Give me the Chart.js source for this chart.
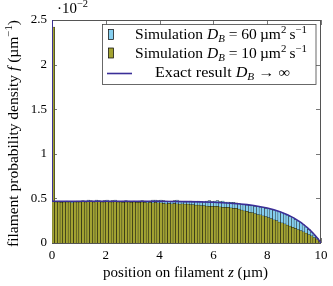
<!DOCTYPE html>
<html>
<head>
<meta charset="utf-8">
<script src="https://cdn.jsdelivr.net/npm/chart.js@4.4.0/dist/chart.umd.min.js"></script>
<style>
  html, body { margin: 0; padding: 0; background: #fff; }
  canvas { display: block; }
</style>
</head>
<body>
<canvas id="densityChart" width="333" height="286"></canvas>
<script>
// histogram bins on the filament (µm), width 0.1
const binCenters = [
  0.05, 0.15, 0.25, 0.35, 0.45, 0.55, 0.65, 0.75, 0.85, 0.95,
  1.05, 1.15, 1.25, 1.35, 1.45, 1.55, 1.65, 1.75, 1.85, 1.95,
  2.05, 2.15, 2.25, 2.35, 2.45, 2.55, 2.65, 2.75, 2.85, 2.95,
  3.05, 3.15, 3.25, 3.35, 3.45, 3.55, 3.65, 3.75, 3.85, 3.95,
  4.05, 4.15, 4.25, 4.35, 4.45, 4.55, 4.65, 4.75, 4.85, 4.95,
  5.05, 5.15, 5.25, 5.35, 5.45, 5.55, 5.65, 5.75, 5.85, 5.95,
  6.05, 6.15, 6.25, 6.35, 6.45, 6.55, 6.65, 6.75, 6.85, 6.95,
  7.05, 7.15, 7.25, 7.35, 7.45, 7.55, 7.65, 7.75, 7.85, 7.95,
  8.05, 8.15, 8.25, 8.35, 8.45, 8.55, 8.65, 8.75, 8.85, 8.95,
  9.05, 9.15, 9.25, 9.35, 9.45, 9.55, 9.65, 9.75, 9.85, 9.95
];

// simulation D_B = 60 µm²/s  (values in units of 1e-2 µm^-1)
const sim60 = [
  2.40, 0.465, 0.47, 0.465, 0.46, 0.47, 0.465, 0.46, 0.465, 0.47,
  0.47, 0.475, 0.47, 0.48, 0.475, 0.47, 0.48, 0.475, 0.47, 0.475,
  0.48, 0.47, 0.475, 0.48, 0.47, 0.465, 0.47, 0.475, 0.47, 0.465,
  0.47, 0.465, 0.47, 0.475, 0.47, 0.465, 0.47, 0.48, 0.48, 0.475,
  0.48, 0.475, 0.47, 0.465, 0.47, 0.475, 0.48, 0.47, 0.465, 0.46,
  0.465, 0.47, 0.46, 0.465, 0.47, 0.465, 0.46, 0.47, 0.475, 0.465,
  0.47, 0.475, 0.465, 0.47, 0.46, 0.46, 0.455, 0.455, 0.45, 0.445,
  0.432, 0.43, 0.425, 0.422, 0.418, 0.412, 0.41, 0.403, 0.398, 0.39,
  0.384, 0.376, 0.368, 0.36, 0.35, 0.338, 0.326, 0.313, 0.298, 0.283,
  0.266, 0.247, 0.226, 0.204, 0.179, 0.152, 0.123, 0.09, 0.055, 0.018
];

// simulation D_B = 10 µm²/s
const sim10 = [
  2.42, 0.46, 0.46, 0.455, 0.46, 0.46, 0.46, 0.45, 0.46, 0.46,
  0.46, 0.465, 0.46, 0.47, 0.465, 0.46, 0.47, 0.465, 0.46, 0.46,
  0.465, 0.46, 0.46, 0.465, 0.46, 0.46, 0.455, 0.46, 0.46, 0.455,
  0.46, 0.455, 0.455, 0.46, 0.455, 0.45, 0.455, 0.45, 0.455, 0.45,
  0.45, 0.445, 0.44, 0.445, 0.44, 0.445, 0.44, 0.435, 0.44, 0.435,
  0.435, 0.43, 0.43, 0.425, 0.425, 0.42, 0.42, 0.415, 0.41, 0.41,
  0.41, 0.41, 0.405, 0.40, 0.40, 0.40, 0.395, 0.39, 0.39, 0.38,
  0.37, 0.36, 0.355, 0.345, 0.34, 0.33, 0.32, 0.315, 0.305, 0.295,
  0.285, 0.275, 0.26, 0.25, 0.235, 0.225, 0.215, 0.20, 0.19, 0.175,
  0.165, 0.15, 0.14, 0.125, 0.11, 0.095, 0.08, 0.06, 0.045, 0.025
];

// exact result D_B -> infinity (spike at z = 0 runs off the top)
const exactZ = [0, 0.005, 0.5, 1, 1.5, 2, 2.5, 3, 3.5, 4,
  4.5, 5, 5.5, 6, 6.5, 7,
  7.25, 7.5, 7.75, 8, 8.25, 8.5, 8.75, 9, 9.25, 9.5,
  9.6, 9.7, 9.8, 9.9, 9.95, 10];
const exactF = [3.0, 0.468, 0.468, 0.468, 0.468, 0.468, 0.468, 0.468, 0.468, 0.468,
  0.466, 0.464, 0.461, 0.456, 0.449, 0.437,
  0.43, 0.42, 0.407, 0.392, 0.373, 0.348, 0.318, 0.279, 0.231, 0.171,
  0.142, 0.112, 0.078, 0.041, 0.021, 0];

const xTicksStep = 2;
const yTicksStep = 0.5;

const legendLabels = [
  [{t: 'Simulation '}, {t: 'D', it: true}, {t: 'B', it: true, pos: 'sub'}, {t: ' = 60\u2009µm'}, {t: '2', pos: 'sup'}, {t: '\u2009s'}, {t: '\u22121', pos: 'sup'}],
  [{t: 'Simulation '}, {t: 'D', it: true}, {t: 'B', it: true, pos: 'sub'}, {t: ' = 10\u2009µm'}, {t: '2', pos: 'sup'}, {t: '\u2009s'}, {t: '\u22121', pos: 'sup'}],
  [{t: 'Exact result '}, {t: 'D', it: true}, {t: 'B', it: true, pos: 'sub'}, {t: ' \u2192 \u221E'}]
];
const xTitle = [{t: 'position on filament '}, {t: 'z', it: true}, {t: ' (µm)'}];
const yTitle = [{t: 'filament probability density '}, {t: 'f', it: true}, {t: ' (µm'}, {t: '\u22121', pos: 'sup'}, {t: ')'}];
const yExponent = [{t: '\u00B710'}, {t: '\u22122', pos: 'sup'}];

const SERIF = "'Liberation Serif', 'DejaVu Serif', serif";
const cyanFill = '#86cff0';
const oliveFill = '#a3a332';
const exactColor = '#3a2e98';

function partFont(p, size) {
    const s = p.pos ? size * 0.7 : size;
    return (p.it ? 'italic ' : '') + s + 'px ' + SERIF;
}

function richWidth(ctx, parts, size) {
    let w = 0;
    parts.forEach(p => {
        ctx.font = partFont(p, size);
        w += ctx.measureText(p.t).width;
    });
    return w;
}

// draws a text with italic / sub / sup pieces, centred on cx, stretched to fitWidth
function drawRich(ctx, parts, cx, baseline, size, fitWidth) {
    const w = richWidth(ctx, parts, size);
    const sx = fitWidth ? fitWidth / w : 1;
    ctx.save();
    ctx.translate(cx, baseline);
    ctx.scale(sx, 1);
    ctx.textAlign = 'left';
    ctx.textBaseline = 'alphabetic';
    ctx.fillStyle = '#000';
    let x = -w / 2;
    parts.forEach(p => {
        ctx.font = partFont(p, size);
        const dy = p.pos === 'sub' ? size * 0.22 : (p.pos === 'sup' ? -size * 0.4 : 0);
        ctx.fillText(p.t, x, dy);
        x += ctx.measureText(p.t).width;
    });
    ctx.restore();
}

const frameAndTicks = {
    id: 'frameAndTicks',
    beforeDatasetsDraw(chart) {
        const {ctx, chartArea: a, scales: {x, y}} = chart;
        ctx.save();
        ctx.strokeStyle = '#555';
        ctx.lineWidth = 0.8;
        ctx.beginPath();
        x.ticks.forEach(t => {
            const px = Math.round(x.getPixelForValue(t.value)) + 0.5;
            ctx.moveTo(px, a.bottom); ctx.lineTo(px, a.bottom - 5);
            ctx.moveTo(px, a.top); ctx.lineTo(px, a.top + 5);
        });
        y.ticks.forEach(t => {
            const py = Math.round(y.getPixelForValue(t.value)) + 0.5;
            ctx.moveTo(a.left, py); ctx.lineTo(a.left + 5, py);
            ctx.moveTo(a.right, py); ctx.lineTo(a.right - 5, py);
        });
        ctx.stroke();
        ctx.lineWidth = 1;
        ctx.strokeRect(a.left + 0.5, a.top + 0.5, a.width - 1, a.height);
        ctx.restore();
    }
};

const annotations = {
    id: 'annotations',
    afterDraw(chart) {
        const ctx = chart.ctx;
        // legend box
        ctx.save();
        ctx.fillStyle = '#fff';
        ctx.fillRect(102.5, 24.5, 213.5, 60);
        ctx.strokeStyle = '#444';
        ctx.lineWidth = 0.8;
        ctx.strokeRect(102.5, 24.5, 213.5, 60);
        ctx.fillStyle = cyanFill;
        ctx.fillRect(108.5, 29.5, 5, 10);
        ctx.strokeStyle = '#000';
        ctx.lineWidth = 0.7;
        ctx.strokeRect(108.5, 29.5, 5, 10);
        ctx.fillStyle = oliveFill;
        ctx.fillRect(108.5, 48, 5, 10);
        ctx.strokeRect(108.5, 48, 5, 10);
        ctx.strokeStyle = exactColor;
        ctx.lineWidth = 1.6;
        ctx.beginPath();
        ctx.moveTo(107, 73.5);
        ctx.lineTo(132, 73.5);
        ctx.stroke();
        ctx.restore();

        drawRich(ctx, legendLabels[0], 221, 39, 14, 172);
        drawRich(ctx, legendLabels[1], 221, 58, 14, 172);
        drawRich(ctx, legendLabels[2], 222.5, 77, 14, 135);

        drawRich(ctx, xTitle, 185.5, 277, 14, 165);
        ctx.save();
        ctx.translate(18, 133.5);
        ctx.rotate(-Math.PI / 2);
        drawRich(ctx, yTitle, 0, 0, 14, 227);
        ctx.restore();

        drawRich(ctx, yExponent, 72.5, 13, 14, 31);
    }
};

const ctx = document.getElementById('densityChart').getContext('2d');

new Chart(ctx, {
    data: {
        datasets: [
            {
                type: 'line',
                label: 'Exact result',
                data: exactZ.map((z, i) => ({x: z, y: exactF[i]})),
                borderColor: exactColor,
                borderWidth: 1.6,
                pointRadius: 0,
                tension: 0,
                order: 0
            },
            {
                type: 'bar',
                label: 'Simulation D_B = 10',
                data: binCenters.map((z, i) => ({x: z, y: sim10[i]})),
                backgroundColor: oliveFill,
                borderColor: 'rgba(0,0,0,0.85)',
                borderWidth: 0.5,
                barPercentage: 1,
                categoryPercentage: 1,
                grouped: false,
                order: 1
            },
            {
                type: 'bar',
                label: 'Simulation D_B = 60',
                data: binCenters.map((z, i) => ({x: z, y: sim60[i]})),
                backgroundColor: cyanFill,
                borderColor: 'rgba(0,0,0,0.85)',
                borderWidth: 0.5,
                barPercentage: 1,
                categoryPercentage: 1,
                grouped: false,
                order: 2
            }
        ]
    },
    options: {
        responsive: false,
        animation: false,
        devicePixelRatio: 1,
        layout: {
            padding: {left: 0, top: 20, right: 12, bottom: 0}
        },
        plugins: {
            legend: {display: false},
            tooltip: {enabled: false}
        },
        scales: {
            x: {
                type: 'linear',
                min: 0,
                max: 10,
                offset: false,
                grid: {display: false, drawTicks: false, tickLength: 0},
                border: {display: false},
                ticks: {
                    stepSize: xTicksStep,
                    color: '#000',
                    padding: 5,
                    maxRotation: 0,
                    font: {family: SERIF, size: 13}
                },
                afterFit: scale => { scale.height = 43; }
            },
            y: {
                min: 0,
                max: 2.5,
                grid: {display: false, drawTicks: false, tickLength: 0},
                border: {display: false},
                ticks: {
                    stepSize: yTicksStep,
                    color: '#000',
                    padding: 5,
                    font: {family: SERIF, size: 13},
                    callback: value => String(value)
                },
                afterFit: scale => { scale.width = 52; }
            }
        }
    },
    plugins: [frameAndTicks, annotations]
});
</script>
</body>
</html>
